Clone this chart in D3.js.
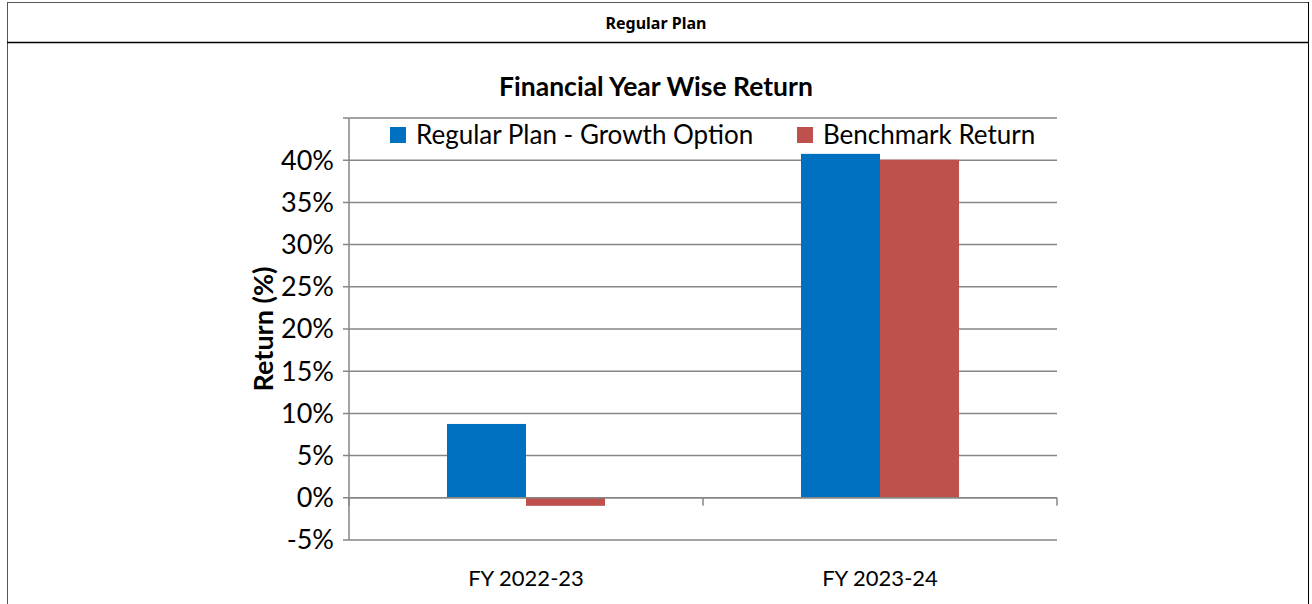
<!DOCTYPE html>
<html>
<head>
<meta charset="utf-8">
<script src="https://cdn.jsdelivr.net/npm/d3@7"></script>
<style>
  body { margin: 0; background: #fff; }
  svg { display: block; }
  text { font-family: Lato, 'Open Sans', sans-serif; fill: #000; }
</style>
</head>
<body>
<div id="chart"></div>
<script>
const categories = ['FY 2022-23', 'FY 2023-24']
const seriesNames = ['Regular Plan - Growth Option', 'Benchmark Return']
const seriesColors = ['#0070C0', '#BE504D']
const growthValues = [8.75, 40.75]
const benchmarkValues = [-0.95, 40.05]
const yTicks = [-5, 0, 5, 10, 15, 20, 25, 30, 35, 40, 45]

const W = 1312
const H = 604

const svg = d3.select('#chart').append('svg')
  .attr('width', W)
  .attr('height', H)

// outer frame + header row
svg.append('rect')
  .attr('x', 7.5).attr('y', 2.5)
  .attr('width', 1301).attr('height', 610)
  .attr('fill', 'none').attr('stroke', '#555').attr('stroke-width', 1)
svg.append('line')
  .attr('x1', 7).attr('x2', 1309).attr('y1', 42.5).attr('y2', 42.5)
  .attr('stroke', '#000').attr('stroke-width', 1.5)
svg.append('line')
  .attr('x1', 1308.5).attr('x2', 1308.5).attr('y1', 2).attr('y2', 604)
  .attr('stroke', '#000').attr('stroke-width', 1)

svg.append('text')
  .attr('x', 656).attr('y', 29)
  .attr('text-anchor', 'middle')
  .style('font-family', "'Noto Sans', sans-serif")
  .style('font-weight', 'bold')
  .style('font-size', '16px')
  .text('Regular Plan')

// plot area
const plot = { left: 349, right: 1057, top: 118, bottom: 540 }

const x = d3.scaleBand()
  .domain(categories)
  .range([plot.left, plot.right])
  .paddingInner(0)
  .paddingOuter(0)

// two bars of ~79px centred in each 354px category
const xInner = d3.scaleBand()
  .domain(seriesNames)
  .range([0, x.bandwidth()])
  .paddingInner(0)
  .paddingOuter(1.24)

const y = d3.scaleLinear()
  .domain([-5, 45])
  .range([plot.bottom, plot.top])

const grid = '#868686'

// gridlines
svg.append('g')
  .selectAll('line')
  .data(yTicks)
  .enter()
  .append('line')
  .attr('x1', plot.left - 6)
  .attr('x2', plot.right)
  .attr('y1', d => y(d))
  .attr('y2', d => y(d))
  .attr('stroke', grid)
  .attr('stroke-width', 1.5)

// y labels
svg.append('g')
  .selectAll('text')
  .data(yTicks.filter(d => d < 45))
  .enter()
  .append('text')
  .attr('x', 334)
  .attr('y', d => y(d))
  .attr('dy', '0.35em')
  .attr('text-anchor', 'end')
  .style('font-size', '27px')
  .text(d => d + '%')

// bars
const rows = categories.map((c, i) => ({ cat: c, values: [growthValues[i], benchmarkValues[i]] }))

const groups = svg.append('g')
  .selectAll('g')
  .data(rows)
  .enter()
  .append('g')
  .attr('transform', d => `translate(${x(d.cat)},0)`)

groups.selectAll('rect')
  .data(d => d.values.map((v, i) => ({ name: seriesNames[i], v, i })))
  .enter()
  .append('rect')
  .attr('x', d => xInner(d.name))
  .attr('width', xInner.bandwidth())
  .attr('y', d => y(Math.max(0, d.v)))
  .attr('height', d => Math.abs(y(d.v) - y(0)))
  .attr('fill', d => seriesColors[d.i])

// y axis line
svg.append('line')
  .attr('x1', plot.left).attr('x2', plot.left)
  .attr('y1', plot.top).attr('y2', plot.bottom)
  .attr('stroke', grid).attr('stroke-width', 1.5)

// x axis at zero, with category ticks
svg.append('line')
  .attr('x1', plot.left).attr('x2', plot.right)
  .attr('y1', y(0)).attr('y2', y(0))
  .attr('stroke', grid).attr('stroke-width', 1.5)

const xTickPos = [plot.left, ...categories.map(c => x(c) + x.bandwidth())]
svg.append('g')
  .selectAll('line')
  .data(xTickPos)
  .enter()
  .append('line')
  .attr('x1', d => d).attr('x2', d => d)
  .attr('y1', y(0)).attr('y2', y(0) + 8)
  .attr('stroke', grid).attr('stroke-width', 1.5)

// x labels
svg.append('g')
  .selectAll('text')
  .data(categories)
  .enter()
  .append('text')
  .attr('x', d => x(d) + x.bandwidth() / 2)
  .attr('y', 586)
  .attr('text-anchor', 'middle')
  .style('font-size', '22px')
  .text(d => d)

// title
svg.append('text')
  .attr('x', 656).attr('y', 96)
  .attr('text-anchor', 'middle')
  .style('font-size', '26.5px')
  .style('font-weight', 'bold')
  .text('Financial Year Wise Return')

// y axis title
svg.append('text')
  .attr('transform', 'translate(273,329) rotate(-90)')
  .attr('text-anchor', 'middle')
  .style('font-size', '27px')
  .style('font-weight', 'bold')
  .text('Return (%)')

// legend
const legendX = [390, 797]
const legend = svg.append('g')
  .selectAll('g')
  .data(seriesNames)
  .enter()
  .append('g')
  .attr('transform', (d, i) => `translate(${legendX[i]},127)`)

legend.append('rect')
  .attr('width', 16).attr('height', 16)
  .attr('fill', (d, i) => seriesColors[i])

legend.append('text')
  .attr('x', 26).attr('y', 17)
  .style('font-size', '26px')
  .text(d => d)
</script>
</body>
</html>
